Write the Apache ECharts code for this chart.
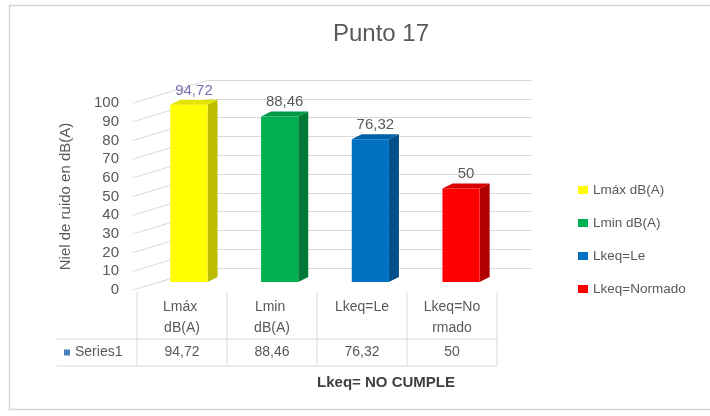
<!DOCTYPE html>
<html>
<head>
<meta charset="utf-8">
<script src="https://cdn.jsdelivr.net/npm/echarts@6/dist/echarts.min.js"></script>
<style>
  html, body { margin: 0; padding: 0; background: #ffffff; }
  #chart { width: 710px; height: 416px; }
</style>
</head>
<body>
<div id="chart"></div>
<script>
// ---- data ----
const categories = ['Lmáx dB(A)', 'Lmin dB(A)', 'Lkeq=Le', 'Lkeq=Normado'];
const values = [94.72, 88.46, 76.32, 50];
const yTicks = [0, 10, 20, 30, 40, 50, 60, 70, 80, 90, 100];
const seriesName = 'Series1';
const chartTitle = 'Punto 17';
const yAxisTitle = 'Niel de ruido en dB(A)';
const tableTitle = 'Lkeq= NO CUMPLE';

// ---- styling ----
const FONT = "'Liberation Sans', Arial, sans-serif";
const TEXT = '#595959';
const GRID_LINE = '#d9d9d9';

// front / side / top shades of each column
const faces = [
  { front: '#FFFF00', side: '#BDBD00', top: '#E3E300' },
  { front: '#00B050', side: '#007A37', top: '#009845' },
  { front: '#0070C0', side: '#004F88', top: '#0062A9' },
  { front: '#FF0000', side: '#B00000', top: '#DA0000' }
];
const labelColors = ['#7571B3', TEXT, TEXT, TEXT];

// screen offsets giving the 3-D depth of the boxes and of the side wall
const BAR_DEPTH = [10, -5];
const WALL_DEPTH = [73, -22];

const fmt = v => String(v).replace('.', ',');

const chart = echarts.init(document.getElementById('chart'), null, { renderer: 'canvas' });

// a 3-D column: front face, right side, top, and its value label
function boxRenderer(k) {
  return function (params, api) {
    const i = api.value(0);
    const v = api.value(1);
    const base = api.coord([i, 0]);
    const top = api.coord([i, v]);
    const w = api.size([1, 0])[0] * 0.41;
    const xl = base[0] - w / 2, xr = base[0] + w / 2;
    const yb = base[1], yt = top[1];
    const dx = BAR_DEPTH[0], dy = BAR_DEPTH[1];
    const f = faces[k];
    return {
      type: 'group',
      children: [
        { type: 'polygon', shape: { points: [[xr, yb], [xr + dx, yb + dy], [xr + dx, yt + dy], [xr, yt]] },
          style: { fill: f.side } },
        { type: 'polygon', shape: { points: [[xl, yt], [xr, yt], [xr + dx, yt + dy], [xl + dx, yt + dy]] },
          style: { fill: f.top } },
        { type: 'rect', shape: { x: xl, y: yt, width: w, height: yb - yt },
          style: { fill: f.front } },
        { type: 'text', x: base[0] + dx / 2, y: yt + dy - 2,
          style: { text: fmt(v), align: 'center', verticalAlign: 'bottom',
                   font: '15px ' + FONT, fill: labelColors[k] } }
      ]
    };
  };
}

// receding lines on the left side wall, one per tick
function wallRenderer(params, api) {
  const x0 = params.coordSys.x;
  const y = api.coord([0, api.value(1)])[1];
  return {
    type: 'line',
    shape: { x1: x0, y1: y, x2: x0 + WALL_DEPTH[0], y2: y + WALL_DEPTH[1] },
    style: { stroke: GRID_LINE, lineWidth: 1 }
  };
}

// data table under the plot: one column per category
function tableRenderer(params, api) {
  const i = api.value(0);
  const cs = params.coordSys;
  const band = api.size([1, 0])[0];
  const cx = api.coord([i, 0])[0];
  const x0 = cx - band / 2, x1 = cx + band / 2;
  const yTop = cs.y, yBot = cs.y + cs.height, yMid = yBot - 27;
  const line = (a, b, c, d) => ({ type: 'line', shape: { x1: a, y1: b, x2: c, y2: d },
                                  style: { stroke: GRID_LINE, lineWidth: 1 } });
  const children = [
    line(x1, yTop, x1, yBot),
    line(x0, yMid, x1, yMid),
    line(x0, yBot, x1, yBot),
    { type: 'text', x: cx, y: yTop + 5,
      style: { text: categories[i], width: 58, overflow: 'break', align: 'center', verticalAlign: 'top',
               lineHeight: 21, font: '14px ' + FONT, fill: TEXT } },
    { type: 'text', x: cx, y: (yMid + yBot) / 2,
      style: { text: fmt(api.value(1)), align: 'center', verticalAlign: 'middle',
               font: '14px ' + FONT, fill: TEXT } }
  ];
  if (i === 0) {
    const hx = x0 - 80;
    children.push(
      line(x0, yTop, x0, yBot),
      line(hx, yMid, x0, yMid),
      line(hx, yBot, x0, yBot),
      { type: 'rect', shape: { x: hx + 7, y: (yMid + yBot) / 2 - 3, width: 6, height: 6 },
        style: { fill: '#4A7EBB' } },
      { type: 'text', x: hx + 18, y: (yMid + yBot) / 2,
        style: { text: seriesName, align: 'left', verticalAlign: 'middle',
                 font: '14px ' + FONT, fill: TEXT } }
    );
  }
  return { type: 'group', children: children };
}

const hiddenCat = idx => ({ type: 'category', data: categories, gridIndex: idx, show: false });

const option = {
  backgroundColor: '#ffffff',
  animation: false,
  title: [
    { text: chartTitle, left: 376, top: 17, textAlign: 'center',
      textStyle: { color: TEXT, fontSize: 24, fontWeight: 'normal', fontFamily: FONT } },
    { text: tableTitle, left: 381, top: 370, textAlign: 'center',
      textStyle: { color: '#404040', fontSize: 15, fontWeight: 'bold', fontFamily: FONT } }
  ],
  legend: {
    data: categories,
    orient: 'vertical',
    left: 573, top: 178,
    itemWidth: 10, itemHeight: 8, itemGap: 19,
    icon: 'rect',
    selectedMode: false,
    textStyle: { color: TEXT, fontSize: 13.5, fontFamily: FONT }
  },
  graphic: [
    { type: 'rect', shape: { x: 9.5, y: 5.5, width: 720, height: 404 },
      style: { fill: 'none', stroke: '#d4d4d4', lineWidth: 1.5 }, silent: true }
  ],
  grid: [
    { left: 206, top: 80, width: 326, height: 188 },      // back wall
    { left: 133, top: 103, width: 364, height: 187 },     // front edge with the value axis
    { left: 143.6, top: 95, width: 362.8, height: 187 },  // column plane
    { left: 137, top: 292, width: 360, height: 74 }       // data table
  ],
  xAxis: [hiddenCat(0), hiddenCat(1), hiddenCat(2), hiddenCat(3)],
  yAxis: [
    { type: 'value', gridIndex: 0, min: 0, max: 100, interval: 10,
      axisLabel: { show: false }, axisLine: { show: false }, axisTick: { show: false },
      splitLine: { show: true, lineStyle: { color: GRID_LINE, width: 1 } } },
    { type: 'value', gridIndex: 1, min: 0, max: 100, interval: 10,
      axisLine: { show: false }, axisTick: { show: false }, splitLine: { show: false },
      axisLabel: { color: TEXT, fontSize: 15, fontFamily: FONT, margin: 14 },
      name: yAxisTitle, nameLocation: 'middle', nameGap: 60, nameRotate: 90,
      nameTextStyle: { color: TEXT, fontSize: 15, fontFamily: FONT } },
    { type: 'value', gridIndex: 2, min: 0, max: 100, show: false },
    { type: 'value', gridIndex: 3, min: 0, max: 100, show: false }
  ],
  series: [
    { type: 'custom', xAxisIndex: 1, yAxisIndex: 1, silent: true, z: 1,
      data: yTicks.map(t => [0, t]), encode: { x: 0, y: 1 }, renderItem: wallRenderer },
    ...categories.map((name, k) => ({
      type: 'custom', name: name, xAxisIndex: 2, yAxisIndex: 2, z: 3,
      itemStyle: { color: faces[k].front },
      data: [[k, values[k]]], encode: { x: 0, y: 1 }, renderItem: boxRenderer(k)
    })),
    { type: 'custom', xAxisIndex: 3, yAxisIndex: 3, silent: true, z: 2,
      data: categories.map((c, i) => [i, values[i]]), encode: { x: 0, y: 1 },
      renderItem: tableRenderer }
  ]
};

chart.setOption(option);
</script>
</body>
</html>
